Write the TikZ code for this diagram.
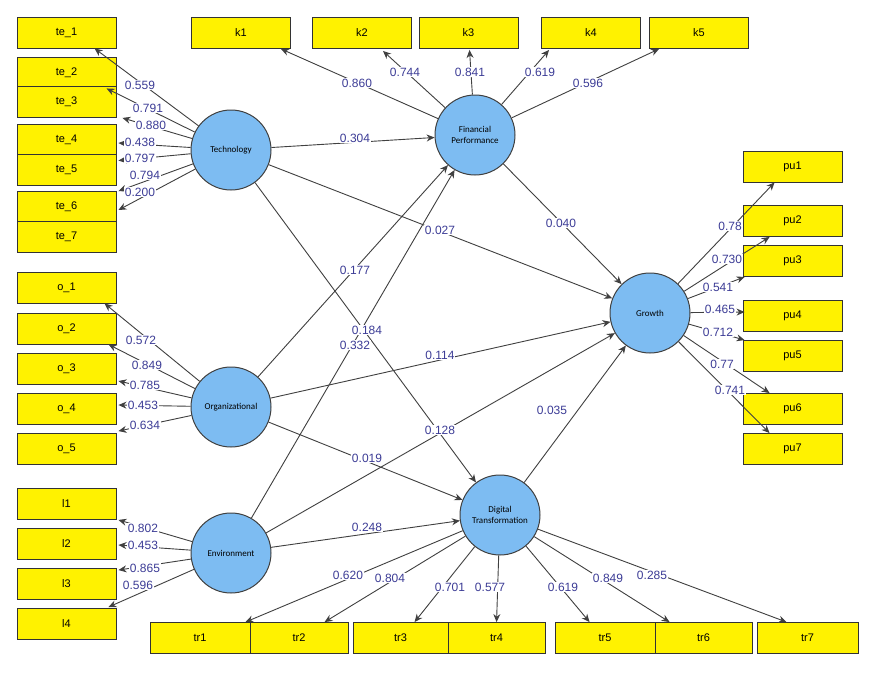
\documentclass[tikz,border=0pt]{standalone}
\usepackage{fontspec}
\setmainfont{Liberation Sans}
\newfontfamily\calfont{Carlito}
\usetikzlibrary{arrows.meta,calc}
\definecolor{lbl}{HTML}{3C3C96}
\definecolor{circ}{HTML}{7DBCF2}
\definecolor{bx}{HTML}{FFF200}
\begin{document}
\begin{tikzpicture}[x=1pt,y=-1pt,
  box/.style={draw=black!80,line width=0.9pt,fill=bx,minimum width=99pt,minimum height=31pt,inner sep=0pt,font=\fontsize{11}{12}\selectfont},
  lv/.style={circle,draw=black!75,line width=1pt,fill=circ,minimum size=80pt,inner sep=0pt,align=center,font=\calfont\fontsize{9}{10.5}\selectfont},
  arr/.style={-{Stealth[length=8pt,width=7pt]},draw=black!75,line width=0.9pt},
  lb/.style={fill=white,inner sep=0.6pt,text=lbl,font=\fontsize{12}{12}\selectfont}]
\useasboundingbox[fill=white] (0,0) rectangle (874,677);
% left boxes
\node[box] (te1) at (66.5,32.5) {te\_1};
\node[box] (te2) at (66.5,72.5) {te\_2};
\node[box] (te3) at (66.5,102) {te\_3};
\node[box] (te4) at (66.5,140) {te\_4};
\node[box] (te5) at (66.5,169.5) {te\_5};
\node[box] (te6) at (66.5,207) {te\_6};
\node[box] (te7) at (66.5,236.5) {te\_7};
\node[box] (o1) at (66.5,287.5) {o\_1};
\node[box] (o2) at (66.5,328.5) {o\_2};
\node[box] (o3) at (66.5,369) {o\_3};
\node[box] (o4) at (66.5,409) {o\_4};
\node[box] (o5) at (66.5,449) {o\_5};
\node[box] (l1) at (66.5,504) {l1};
\node[box] (l2) at (66.5,544) {l2};
\node[box] (l3) at (66.5,584) {l3};
\node[box] (l4) at (66.5,624) {l4};
% top
\node[box] (k1) at (241,33) {k1};
\node[box] (k2) at (362,33) {k2};
\node[box] (k3) at (468.5,33) {k3};
\node[box] (k4) at (591,33) {k4};
\node[box] (k5) at (699,33) {k5};
% right
\node[box] (pu1) at (792.5,166.5) {pu1};
\node[box] (pu2) at (792.5,221) {pu2};
\node[box] (pu3) at (792.5,261) {pu3};
\node[box] (pu4) at (792.5,316) {pu4};
\node[box] (pu5) at (792.5,356) {pu5};
\node[box] (pu6) at (792.5,409) {pu6};
\node[box] (pu7) at (792.5,449) {pu7};
% bottom
\node[box,minimum width=100pt] (tr1) at (200,638) {tr1};
\node[box,minimum width=98pt] (tr2) at (299,638) {tr2};
\node[box,minimum width=95pt] (tr3) at (400.5,638) {tr3};
\node[box,minimum width=97pt] (tr4) at (496.5,638) {tr4};
\node[box,minimum width=100pt] (tr5) at (605,638) {tr5};
\node[box,minimum width=97pt] (tr6) at (703.5,638) {tr6};
\node[box,minimum width=101pt] (tr7) at (807.5,638) {tr7};
% latent
\node[lv] (tech) at (231,150) {Technology};
\node[lv] (fp) at (475,135) {Financial\\Performance};
\node[lv] (gr) at (650,313) {Growth};
\node[lv] (org) at (231,407) {Organizational};
\node[lv] (env) at (231,553) {Environment};
\node[lv] (dt) at (500,515) {Digital\\Transformation};
% outer loadings Technology
\draw[arr] (tech) -- ($(te1.south west)+(78,0)$);
\draw[arr] (tech) -- ($(te2.south west)+(90,0)$);
\draw[arr] (tech) -- ($(te3.south east)+(6,0)$);
\draw[arr] (tech) -- ($(te4.east)+(2,3)$);
\draw[arr] (tech) -- ($(te5.east)+(2,-9)$);
\draw[arr] (tech) -- ($(te6.north east)+(2,0)$);
\draw[arr] (tech) -- ($(te6.east)+(2,3)$);
% Organizational
\draw[arr] (org) -- ($(o1.south west)+(88,0)$);
\draw[arr] (org) -- ($(o2.south west)+(92,0)$);
\draw[arr] (org) -- ($(o3.east)+(2,12)$);
\draw[arr] (org) -- ($(o4.east)+(2,-4)$);
\draw[arr] (org) -- ($(o5.north east)+(2,-2)$);
% Environment
\draw[arr] (env) -- ($(l1.south east)+(2,0)$);
\draw[arr] (env) -- ($(l2.east)+(2,1)$);
\draw[arr] (env) -- ($(l3.north east)+(2,2)$);
\draw[arr] (env) -- ($(l4.north east)+(-8,-1)$);
% FP
\draw[arr] (fp) -- ($(k1.south east)+(-10,0)$);
\draw[arr] (fp) -- ($(k2.south)+(21,2)$);
\draw[arr] (fp) -- ($(k3.south)+(1,1)$);
\draw[arr] (fp) -- ($(k4.south west)+(8,1)$);
\draw[arr] (fp) -- ($(k5.south west)+(10,0)$);
% Growth
\draw[arr] (gr) -- ($(pu1.south west)+(32,0)$);
\draw[arr] (gr) -- ($(pu2.south west)+(27,0)$);
\draw[arr] (gr) -- ($(pu3.south west)+(2,0)$);
\draw[arr] (gr) -- ($(pu4.west)+(2,-4)$);
\draw[arr] (gr) -- ($(pu5.north west)+(2,0)$);
\draw[arr] (gr) -- ($(pu6.north west)+(27,0)$);
\draw[arr] (gr) -- ($(pu7.north west)+(27,0)$);
% DT
\draw[arr] (dt) -- ($(tr1.north east)+(-5,0)$);
\draw[arr] (dt) -- ($(tr2.north west)+(75,0)$);
\draw[arr] (dt) -- ($(tr3.north west)+(62,0)$);
\draw[arr] (dt) -- ($(tr4.north west)+(49,0)$);
\draw[arr] (dt) -- ($(tr5.north west)+(35,0)$);
\draw[arr] (dt) -- ($(tr6.north west)+(15,0)$);
\draw[arr] (dt) -- ($(tr7.north west)+(30,0)$);
% structural
\draw[arr] (tech) -- (fp);
\draw[arr] (tech) -- (gr);
\draw[arr] (tech) -- (dt);
\draw[arr] (org) -- (fp);
\draw[arr] (org) -- (gr);
\draw[arr] (org) -- (dt);
\draw[arr] (env) -- (fp);
\draw[arr] (env) -- (gr);
\draw[arr] (env) -- (dt);
\draw[arr] (fp) -- (gr);
\draw[arr] (dt) -- (gr);
% labels
\foreach \p/\t in {{140,85}/0.559,{151,125}/0.880,{148,108}/0.791,{140,142}/0.438,{140,158}/0.797,{145,175}/0.794,{140,192}/0.200,
 {141,340}/0.572,{147,365}/0.849,{145,385}/0.785,{143,405}/0.453,{145,425}/0.634,
 {143,528}/0.802,{143,545}/0.453,{145,568}/0.865,{138,585}/0.596,
 {357,83}/0.860,{405,72}/0.744,{470,72}/0.841,{540,72}/0.619,{588,83}/0.596,
 {730,226}/0.78,{727,259}/0.730,{718,287}/0.541,{720,309}/0.465,{718,332}/0.712,{722,364}/0.77,{730,390}/0.741,
 {348,575}/0.620,{390,578}/0.804,{450,587}/0.701,{490,587}/0.577,{563,587}/0.619,{608,578}/0.849,{652,575}/0.285,
 {355,138}/0.304,{440,230}/0.027,{355,270}/0.177,{355,345}/0.332,{367,330}/0.184,{440,355}/0.114,{440,430}/0.128,
 {367,458}/0.019,{367,527}/0.248,{561,223}/0.040,{552,410}/0.035}
 \node[lb] at (\p) {\t};
\end{tikzpicture}
\end{document}
